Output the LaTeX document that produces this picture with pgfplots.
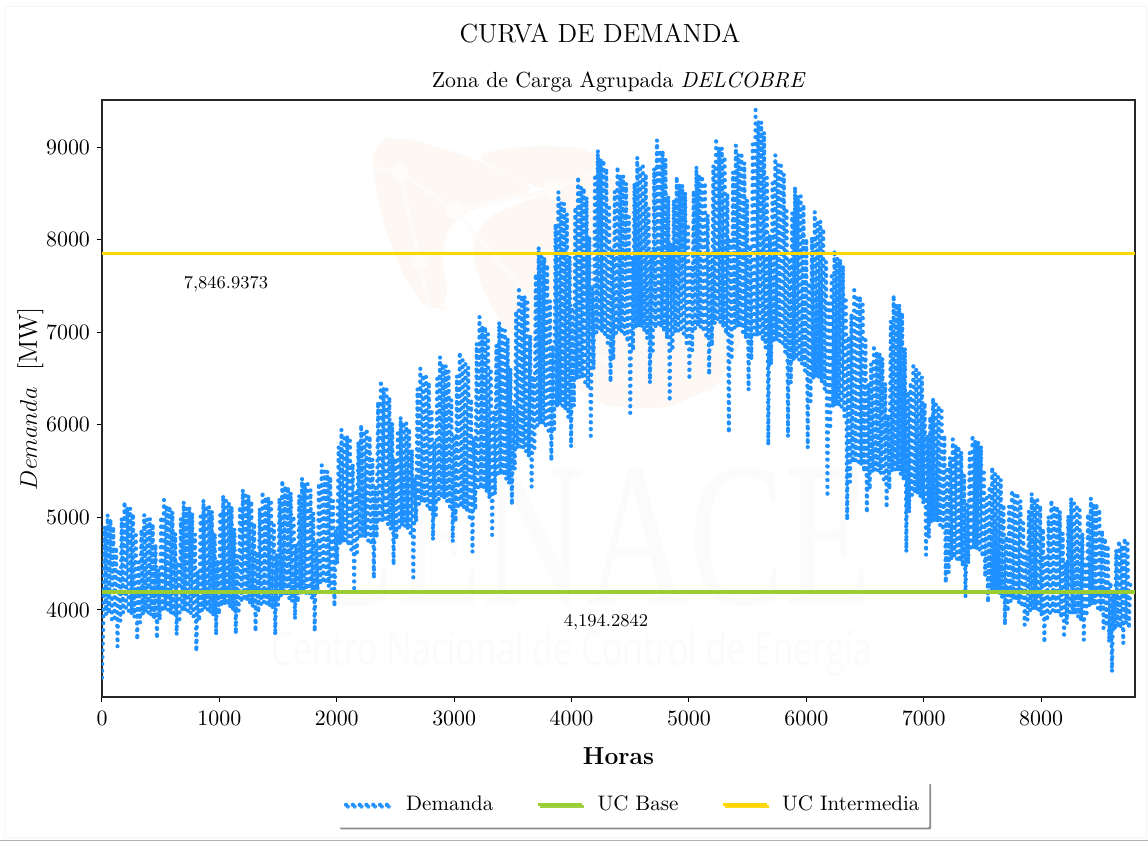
\documentclass[border=0pt]{standalone}
\usepackage{pgfplots}
\usepackage{fontspec}
\usepackage{graphicx}
\pgfplotsset{compat=1.18}
\usetikzlibrary{shadows}
\newfontfamily\wmfont{Open Sans}
\newfontfamily\wmserif{Liberation Serif}
\definecolor{dem}{RGB}{30,144,255}
\definecolor{ucb}{RGB}{154,205,50}
\definecolor{uci}{RGB}{255,215,0}
\definecolor{wm}{RGB}{251,251,251}
\definecolor{wing}{RGB}{253,248,243}
\begin{document}
\begin{tikzpicture}[x=1pt,y=1pt]
\useasboundingbox (-51,-72) rectangle (523,348.5);
\fill[white] (-51,-72) rectangle (523,348.5);
\draw[gray!60,line width=0.6pt] (-51,-71.7) -- (523,-71.7);
\begin{scope}[shift={(-51pt,348.5pt)},x=0.5pt,y=-0.5pt]
\draw[gray!7,line width=0.5pt] (5,7) rectangle (1146,838);
\fill[wing,rounded corners=10pt] (373,140) -- (400,136) -- (470,157) -- (540,190) -- (455,215) -- (440,250) -- (450,305) -- (435,315) -- (410,290) -- (385,230) -- (372,170) -- cycle;
\fill[wing,rounded corners=10pt] (470,155) -- (530,145) -- (590,148) -- (610,165) -- (600,190) -- (540,190) -- cycle;
\fill[wing,rounded corners=20pt] (463,227) -- (540,195) -- (620,170) -- (700,230) -- (750,300) -- (735,370) -- (700,400) -- (633,414) -- (583,397) -- (493,320) -- cycle;
\draw[wing!40!white,line width=2pt] (372,168) -- (400,172) -- (455,210) -- (552,190) -- (610,165);
\draw[wing!40!white,line width=2pt] (400,172) -- (430,310);
\draw[wing!40!white,line width=2pt] (455,210) -- (540,310) -- (640,390);
\fill[wing!30!white] (400,172) circle (8) (455,210) circle (9) (552,190) circle (9) (420,262) circle (8);
\node[wm,inner sep=0pt] at (586,537) {\resizebox{286pt}{68pt}{\wmserif CENACE}};
\node[wm,inner sep=0pt] at (572,653) {\resizebox{300pt}{18pt}{\wmfont Centro Nacional de Control de Energía}};
\end{scope}
\begin{axis}[
  scale only axis, width=516.5pt, height=298.5pt,
  xmin=0, xmax=8800, ymin=3060, ymax=9508,
  xtick={0,1000,...,8000}, ytick={4000,5000,...,9000},
  xtick pos=bottom, ytick pos=left,
  /pgf/number format/set thousands separator={},
  tick align=outside, major tick length=2.5pt,
  tick style={black,line width=0.5pt},
  axis line style={black!85,line width=0.6pt},
  tick label style={font=\fontsize{10.5}{12}\selectfont},
  xticklabel style={yshift=-1pt},
  xlabel={\bfseries Horas},
  xlabel style={font=\fontsize{12.3}{15}\selectfont, yshift=-4.5pt},
  ylabel={$Demanda$\ \ [MW]},
  ylabel style={font=\fontsize{13}{16}\selectfont, yshift=-5.5pt},
  clip=true,
  legend columns=3,
  legend style={at={(0.5147,-0.1415)},anchor=north,draw=none,fill=white,
    rounded corners=1pt,
    drop shadow={shadow xshift=0.9pt,shadow yshift=-0.9pt,fill=gray,opacity=0.9},
    font=\fontsize{10.5}{12}\selectfont,
    /tikz/every even column/.append style={column sep=19.5pt},
    /tikz/every odd column/.append style={column sep=5pt},
    inner xsep=3pt, inner ysep=5pt},
  legend image code/.code={\draw[#1] (0pt,0pt) -- (22pt,0pt);},
  legend cell align=left,
]
\addplot[dem,line width=2.1pt,line cap=round,dash pattern=on 0pt off 3.4pt,line join=round]
 table[x expr=\coordindex*12,y index=0,row sep=\\,header=false]{
3270\\3900\\4900\\3950\\5030\\3960\\4980\\3900\\4900\\3880\\4680\\
3604\\4440\\3880\\4990\\3970\\5170\\3990\\5110\\3990\\5100\\3950\\5040\\3920\\4810\\
3676\\4520\\3860\\4870\\3950\\5030\\3970\\4980\\3965\\4990\\3940\\4930\\3900\\4710\\
3690\\4440\\3890\\5010\\3980\\5190\\4000\\5130\\3995\\5120\\3960\\5060\\3930\\4830\\
3730\\4520\\3900\\4990\\3980\\5170\\3995\\5100\\3990\\5110\\3960\\5050\\3930\\4820\\
3550\\4420\\3880\\5010\\3990\\5190\\4010\\5130\\4000\\5120\\3970\\5070\\3940\\4830\\
3730\\4540\\3950\\5060\\4040\\5240\\4060\\5180\\4050\\5170\\4020\\5120\\3990\\4880\\
3741\\4590\\3990\\5120\\4080\\5300\\4100\\5240\\4095\\5240\\4060\\5180\\4030\\4940\\
3766\\4630\\3970\\5100\\4060\\5280\\4080\\5220\\4070\\5220\\4040\\5160\\4010\\4920\\
3730\\4610\\4050\\5210\\4140\\5400\\4160\\5340\\4150\\5330\\4120\\5270\\4090\\5020\\
3900\\4710\\4080\\5240\\4170\\5425\\4190\\5370\\4180\\5360\\4150\\5300\\4120\\5050\\
3766\\4740\\4180\\5370\\4270\\5566\\4290\\5500\\4280\\5500\\4250\\5440\\4220\\5180\\
4036\\4860\\4500\\5760\\4710\\5950\\4730\\5890\\4720\\5880\\4690\\5830\\4650\\5580\\
4235\\5270\\4620\\5820\\4770\\6000\\4790\\5940\\4780\\5930\\4750\\5880\\4700\\5630\\
4340\\5330\\4780\\6250\\4940\\6480\\4960\\6400\\4950\\6380\\4920\\6300\\4870\\6020\\
4486\\5640\\4760\\5910\\4890\\6085\\4910\\6030\\4900\\6020\\4870\\5960\\4830\\5730\\
4350\\5430\\4950\\6390\\5140\\6610\\5160\\6540\\5150\\6520\\5120\\6460\\5060\\6170\\
4756\\5810\\5020\\6500\\5190\\6733\\5210\\6660\\5200\\6640\\5170\\6580\\5110\\6270\\
4734\\5890\\4950\\6530\\5090\\6786\\5110\\6700\\5100\\6690\\5060\\6620\\5000\\6280\\
4626\\5860\\5080\\6880\\5290\\7167\\5310\\7070\\5300\\7060\\5270\\6980\\5200\\6610\\
4810\\6140\\5250\\6860\\5440\\7110\\5460\\7030\\5450\\7020\\5410\\6940\\5360\\6610\\
5134\\6200\\5520\\7230\\5740\\7490\\5760\\7400\\5750\\7390\\5710\\7320\\5650\\6970\\
5330\\6530\\5750\\7630\\5990\\7920\\6010\\7820\\6000\\7810\\5960\\7730\\5900\\7340\\
5610\\6860\\5950\\8170\\6190\\8515\\6210\\8400\\6200\\8390\\6160\\8280\\6080\\7820\\
5760\\7240\\6200\\8350\\6490\\8680\\6510\\8570\\6500\\8560\\6460\\8460\\6390\\8030\\
5880\\7480\\6600\\8670\\6990\\8968\\7010\\8870\\7000\\8860\\6950\\8770\\6880\\8380\\
6460\\7890\\6700\\8520\\6990\\8790\\7010\\8700\\7000\\8690\\6950\\8610\\6890\\8250\\
6128\\7810\\6800\\8610\\7040\\8890\\7060\\8800\\7050\\8790\\7000\\8710\\6930\\8340\\
6450\\7880\\6800\\8770\\7040\\9076\\7060\\8970\\7050\\8960\\7000\\8870\\6930\\8470\\
6250\\7960\\6800\\8430\\6990\\8680\\7010\\8600\\7000\\8590\\6950\\8510\\6880\\8170\\
6484\\7730\\6800\\8530\\7040\\8790\\7060\\8700\\7050\\8690\\7000\\8620\\6930\\8270\\
6538\\7830\\6850\\8800\\7090\\9097\\7110\\9000\\7100\\8990\\7050\\8900\\6980\\8500\\
5910\\7990\\6700\\8730\\7040\\9022\\7060\\8920\\7050\\8910\\7000\\8830\\6930\\8430\\
6376\\7940\\6700\\9030\\6940\\9400\\6960\\9280\\6950\\9270\\6900\\9160\\6830\\8670\\
5780\\8050\\6650\\8610\\6890\\8914\\6910\\8810\\6900\\8800\\6850\\8710\\6780\\8310\\
5870\\7800\\6450\\8290\\6690\\8570\\6710\\8480\\6700\\8470\\6650\\8380\\6580\\8010\\
5750\\7540\\6250\\8030\\6490\\8300\\6510\\8210\\6500\\8200\\6450\\8120\\6380\\7760\\
5220\\7310\\5950\\7640\\6190\\7888\\6210\\7800\\6200\\7790\\6160\\7720\\6090\\7380\\
4970\\6960\\5380\\7200\\5590\\7490\\5610\\7400\\5600\\7390\\5560\\7300\\5490\\6920\\
5047\\6450\\5300\\6660\\5490\\6862\\5510\\6790\\5500\\6780\\5470\\6720\\5410\\6450\\
5100\\6110\\5300\\7120\\5490\\7402\\5510\\7310\\5500\\7300\\5460\\7210\\5400\\6830\\
4626\\6360\\5050\\6460\\5240\\6667\\5260\\6600\\5250\\6590\\5210\\6520\\5150\\6240\\
4594\\5890\\4780\\6090\\4940\\6290\\4960\\6220\\4950\\6210\\4910\\6150\\4860\\5890\\
4292\\5550\\4400\\5650\\4540\\5847\\4560\\5780\\4550\\5770\\4520\\5710\\4470\\5460\\
4130\\5140\\4500\\5700\\4640\\5890\\4660\\5830\\4650\\5820\\4620\\5770\\4570\\5520\\
4356\\5210\\4080\\5340\\4190\\5544\\4210\\5470\\4200\\5470\\4170\\5410\\4120\\5140\\
3838\\4800\\3980\\5120\\4090\\5296\\4110\\5240\\4100\\5230\\4070\\5180\\4030\\4940\\
3838\\4640\\3890\\5070\\3990\\5260\\4010\\5200\\4000\\5190\\3970\\5130\\3930\\4880\\
3644\\4570\\3880\\5010\\3970\\5188\\3990\\5130\\3980\\5120\\3950\\5070\\3910\\4830\\
3698\\4520\\3850\\5020\\3940\\5210\\3960\\5150\\3950\\5140\\3920\\5080\\3880\\4830\\
3676\\4520\\3930\\5040\\4040\\5210\\4060\\5150\\4050\\5150\\4020\\5090\\3980\\4860\\
3800\\4778\\3820\\4700\\3650\\4300\\3330\\4200\\3780\\4650\\3810\\4750\\3800\\4700\\
3640\\4778\\3850\\4720\\3800\\4300\\
};
\addlegendentry{Demanda}
\addplot[ucb,line width=1.6pt] coordinates {(0,4194.2842) (8800,4194.2842)};
\addlegendentry{UC Base}
\addplot[uci,line width=1.4pt] coordinates {(0,7846.9373) (8800,7846.9373)};
\addlegendentry{UC Intermedia}
\node[font=\fontsize{9}{11}\selectfont,inner sep=1pt] at (axis cs:1056,7520) {7,846.9373};
\node[font=\fontsize{9}{11}\selectfont,inner sep=1pt] at (axis cs:4293,3870) {4,194.2842};
\end{axis}
\node[font=\fontsize{13.1}{15}\selectfont] at (249,332) {CURVA DE DEMANDA};
\node[font=\fontsize{10.9}{13}\selectfont] at (258,307.5) {Zona de Carga Agrupada $\mathit{DELCOBRE}$};
\end{tikzpicture}
\end{document}
